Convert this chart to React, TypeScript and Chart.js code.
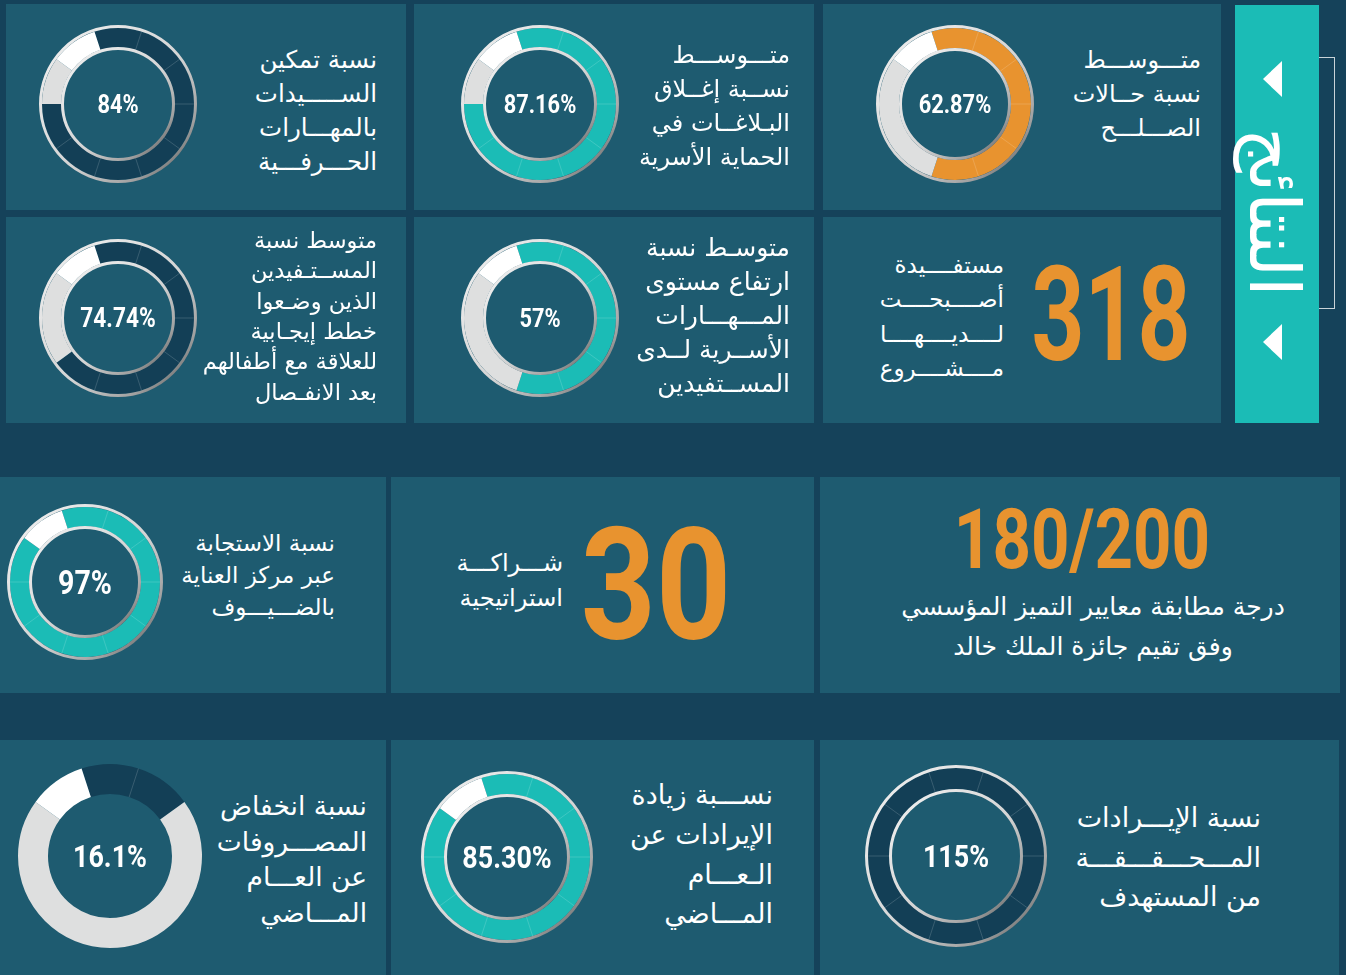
import React, { useEffect, useRef } from 'react';
import { Chart, registerables } from 'chart.js';

Chart.register(...registerables);

// ---------------- data ----------------
const donutValueLabels = ['84%', '87.16%', '62.87%', '74.74%', '57%', '97%', '16.1%', '85.30%', '115%'];
// ring is split in 10 equal segments: filled / grey / white marker
const donutFilledSegments = [8, 8, 6, 7, 6, 9, 2, 9, 10];
const donutGreySegments = [1, 1, 3, 2, 3, 0, 7, 0, 0];
const donutWhiteSegments = [1, 1, 1, 1, 1, 1, 1, 1, 0];

const donutCaptions: string[][] = [
  ['نسبة تمكين', 'الســـــيدات', 'بالمهـــارات', 'الحـــرفـــية'],
  ['متـــوســـط', 'نســبة إغــلاق', 'البـلاغــات في', 'الحماية الأسرية'],
  ['متـــوســـط', 'نسبة حــالات', 'الصـــلـــح'],
  ['متوسط نسبة', 'المســتـفيدين', 'الذين وضـعوا', 'خطط إيجـابية', 'للعلاقة مع أطفالهم', 'بعد الانفـصال'],
  ['متوسـط نسبة', 'ارتفاع مستوى', 'المـــهـــارات', 'الأســرية لــدى', 'المســتفيدين'],
  ['نسبة الاستجابة', 'عبر مركز العناية', 'بالضـــيـــوف'],
  ['نسبة انخفاض', 'المصـــروفات', 'عن العـــام', 'المـــاضي'],
  ['نســـبة زيادة', 'الإيرادات عن', 'الـعـــام', 'المـــاضي'],
  ['نسبة الإيـــرادات', 'المـــحـــقـــقـــة', 'من المستهدف'],
];

const bigNumbers = ['318', '30', '180/200'];
const bigNumberCaptions: string[][] = [
  ['مستفــــيدة', 'أصــــبحــــت', 'لــــديــــهــــا', 'مــــشــــروع'],
  ['شـــراكـــة', 'استراتيجية'],
  ['درجة مطابقة معايير التميز المؤسسي', 'وفق تقيم جائزة الملك خالد'],
];
const sidebarTitle = 'النتائج';

// ---------------- styles / layout ----------------
const C = {
  bg: '#15425a',
  panel: '#1e5b70',
  teal: '#1bbcb6',
  orange: '#e8932f',
  dark: '#133f56',
  grey: '#dedfdf',
  white: '#ffffff',
};
const ARABIC = "'DejaVu Sans', 'Noto Sans', sans-serif";
const NUMFONT = "Roboto, 'Open Sans', sans-serif";

const panels = [
  [6, 4, 406, 210], [414, 4, 814, 210], [823, 4, 1221, 210],
  [6, 217, 406, 423], [414, 217, 814, 423], [823, 217, 1221, 423],
  [0, 477, 386, 693], [391, 477, 814, 693], [820, 477, 1340, 693],
  [0, 740, 386, 975], [391, 740, 814, 975], [820, 740, 1339, 975],
];

const donutLayout = [
  { cx: 118, cy: 104, ro: 79, ri: 54, color: C.dark, fs: 26, rim: true },
  { cx: 540, cy: 104, ro: 79, ri: 54, color: C.teal, fs: 26, rim: true },
  { cx: 955, cy: 104, ro: 79, ri: 53, color: C.orange, fs: 26, rim: true },
  { cx: 118, cy: 318, ro: 79, ri: 54, color: C.dark, fs: 27, rim: true },
  { cx: 540, cy: 318, ro: 79, ri: 54, color: C.teal, fs: 26, rim: true },
  { cx: 85, cy: 582, ro: 78, ri: 53, color: C.teal, fs: 34, rim: true },
  { cx: 110, cy: 856, ro: 92, ri: 62, color: C.dark, fs: 32, rim: false },
  { cx: 507, cy: 857, ro: 86, ri: 60, color: C.teal, fs: 32, rim: true },
  { cx: 956, cy: 856, ro: 91, ri: 64, color: C.dark, fs: 32, rim: true },
];

const captionLayout = [
  { right: 377, top: 60, lh: 34, fs: 24.5 },
  { right: 790, top: 55, lh: 34, fs: 24 },
  { right: 1201, top: 60, lh: 34, fs: 24 },
  { right: 377, top: 240, lh: 30.4, fs: 22.5 },
  { right: 790, top: 248, lh: 34, fs: 25 },
  { right: 335, top: 543, lh: 32, fs: 23 },
  { right: 367, top: 806, lh: 35.5, fs: 26.5 },
  { right: 773, top: 795, lh: 39.7, fs: 27 },
  { right: 1261, top: 818, lh: 39.5, fs: 27 },
];

const bigLayout = [
  { cx: 1111, cy: 315, fs: 132, sx: 0.7 },
  { cx: 656, cy: 585, fs: 156, sx: 0.84 },
  { cx: 1082, cy: 540, fs: 84, sx: 0.8 },
];
const bigCaptionLayout = [
  { right: 1004, top: 265, lh: 34.5, fs: 23, center: false },
  { right: 563, top: 563, lh: 35, fs: 24, center: false },
  { right: 1093, top: 607, lh: 40, fs: 25, center: true },
];

// ---------------- plugin ----------------
const ringDecor = {
  id: 'ringDecor',
  afterDatasetsDraw(chart: any, _args: any, opts: any) {
    const arc = chart.getDatasetMeta(0).data[0];
    if (!arc) return;
    const { x, y, outerRadius, innerRadius } = arc.getProps(['x', 'y', 'outerRadius', 'innerRadius'], true);
    const ctx = chart.ctx;
    ctx.save();
    const n = opts.filled as number;
    const start = n >= 10 ? 0 : 1;
    ctx.strokeStyle = 'rgba(255,255,255,0.2)';
    ctx.lineWidth = 0.8;
    for (let k = start; k < n; k++) {
      const a = ((-18 + 36 * k - 90) * Math.PI) / 180;
      ctx.beginPath();
      ctx.moveTo(x + innerRadius * Math.cos(a), y + innerRadius * Math.sin(a));
      ctx.lineTo(x + outerRadius * Math.cos(a), y + outerRadius * Math.sin(a));
      ctx.stroke();
    }
    if (opts.rim) {
      const w = 3;
      const grad = (r: number) => {
        const g = ctx.createLinearGradient(x - r, y - r, x + r, y + r);
        g.addColorStop(0, '#f2f2f2');
        g.addColorStop(0.55, '#d4d4d4');
        g.addColorStop(0.8, '#a0a0a0');
        g.addColorStop(1, '#3e3e3e');
        return g;
      };
      ctx.lineWidth = w;
      ctx.strokeStyle = grad(outerRadius + w / 2);
      ctx.beginPath();
      ctx.arc(x, y, outerRadius + w / 2, 0, Math.PI * 2);
      ctx.stroke();
      ctx.strokeStyle = grad(innerRadius - w / 2);
      ctx.beginPath();
      ctx.arc(x, y, innerRadius - w / 2, 0, Math.PI * 2);
      ctx.stroke();
    }
    ctx.restore();
  },
};

// ---------------- components ----------------
function Donut({ i }: { i: number }) {
  const ref = useRef<HTMLCanvasElement>(null);
  const L = donutLayout[i];
  const rimW = L.rim ? 3 : 0;
  const size = (L.ro + 4) * 2;
  useEffect(() => {
    if (!ref.current) return;
    const outer = L.ro - rimW;
    const inner = L.ri + rimW;
    const chart = new Chart(ref.current, {
      type: 'doughnut',
      data: {
        labels: ['filled', 'rest', 'marker'],
        datasets: [
          {
            data: [donutFilledSegments[i], donutGreySegments[i], donutWhiteSegments[i]],
            backgroundColor: [L.color, C.grey, C.white],
            borderWidth: 0,
          },
        ],
      },
      options: {
        responsive: false,
        animation: false,
        events: [],
        rotation: -18,
        radius: outer,
        cutout: `${(inner / outer) * 100}%`,
        layout: { padding: 0 },
        plugins: {
          legend: { display: false },
          tooltip: { enabled: false },
          ringDecor: { filled: donutFilledSegments[i], rim: L.rim },
        } as any,
      } as any,
      plugins: [ringDecor as any],
    });
    return () => chart.destroy();
  }, []);
  return (
    <div style={{ position: 'absolute', left: L.cx - size / 2, top: L.cy - size / 2, width: size, height: size }}>
      <canvas ref={ref} width={size} height={size} style={{ display: 'block' }} />
      <div
        style={{
          position: 'absolute', left: 0, top: 0, width: size, height: size,
          display: 'flex', alignItems: 'center', justifyContent: 'center',
          color: '#fff', fontFamily: NUMFONT, fontWeight: 700, fontSize: L.fs,
          lineHeight: 1, transform: 'scaleX(0.84)',
        }}
      >
        {donutValueLabels[i]}
      </div>
    </div>
  );
}

function Caption({ lines, right, top, lh, fs, center }: any) {
  const style: any = {
    position: 'absolute', top: top - lh / 2, color: '#fff', fontFamily: ARABIC,
    fontSize: fs, lineHeight: `${lh}px`, direction: 'rtl', whiteSpace: 'nowrap',
  };
  if (center) {
    style.left = right - 300; style.width = 600; style.textAlign = 'center';
  } else {
    style.right = 1346 - right; style.textAlign = 'right';
  }
  return (
    <div style={style}>
      {lines.map((t: string, k: number) => (
        <div key={k}>{t}</div>
      ))}
    </div>
  );
}

export default function App() {
  useEffect(() => {
    document.body.style.margin = '0';
  }, []);
  return (
    <div style={{ position: 'absolute', left: 0, top: 0, width: 1346, height: 975, background: C.bg, overflow: 'hidden' }}>
      {panels.map(([x1, y1, x2, y2], k) => (
        <div key={k} style={{ position: 'absolute', left: x1, top: y1, width: x2 - x1, height: y2 - y1, background: C.panel }} />
      ))}
      {/* sidebar */}
      <div style={{ position: 'absolute', left: 1235, top: 5, width: 84, height: 418, background: C.teal }} />
      <div style={{ position: 'absolute', left: 1319, top: 57, width: 15, height: 250, borderTop: '1.5px solid #c9d3d8', borderRight: '1.5px solid #c9d3d8', borderBottom: '1.5px solid #c9d3d8' }} />
      {[61, 324].map((t) => (
        <div key={t} style={{ position: 'absolute', left: 1263, top: t, width: 0, height: 0, borderTop: '18px solid transparent', borderBottom: '18px solid transparent', borderRight: '19px solid #fff' }} />
      ))}
      <div style={{ position: 'absolute', left: 1274 - 130, top: 212 - 45, width: 260, height: 90, display: 'flex', alignItems: 'center', justifyContent: 'center', transform: 'rotate(90deg)', color: '#fff', fontFamily: ARABIC, fontSize: 70, lineHeight: 1, direction: 'rtl', whiteSpace: 'nowrap' }}>
        {sidebarTitle}
      </div>

      {donutLayout.map((_, i) => (
        <Donut key={i} i={i} />
      ))}
      {donutCaptions.map((lines, i) => (
        <Caption key={i} lines={lines} {...captionLayout[i]} />
      ))}
      {bigNumbers.map((t, i) => {
        const L = bigLayout[i];
        return (
          <div key={i} style={{ position: 'absolute', left: L.cx - 250, top: L.cy - L.fs / 2, width: 500, height: L.fs, display: 'flex', alignItems: 'center', justifyContent: 'center', color: C.orange, fontFamily: NUMFONT, fontWeight: 700, fontSize: L.fs, lineHeight: 1, transform: `scaleX(${L.sx})` }}>
            {t}
          </div>
        );
      })}
      {bigNumberCaptions.map((lines, i) => (
        <Caption key={i} lines={lines} {...bigCaptionLayout[i]} />
      ))}
    </div>
  );
}
